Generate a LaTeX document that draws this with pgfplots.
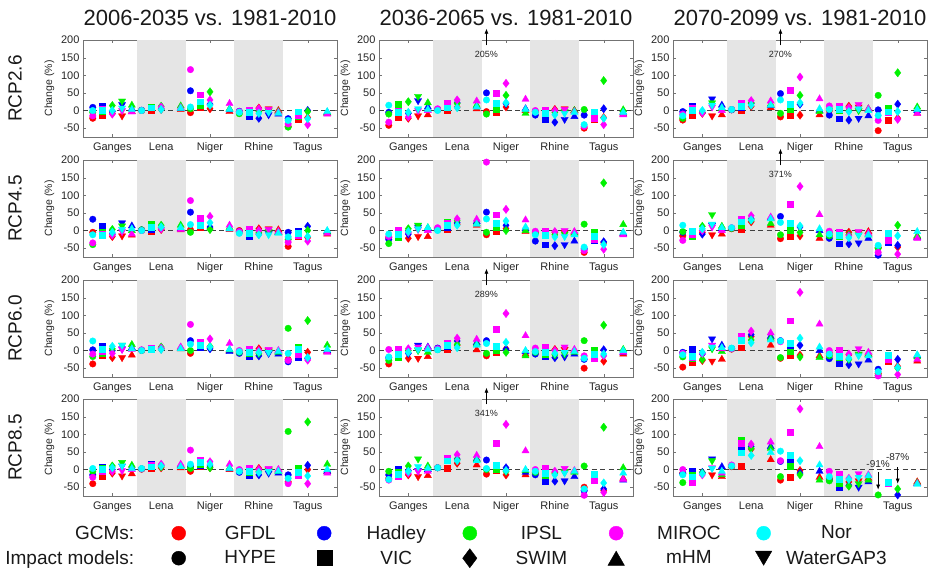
\documentclass[border=0pt]{standalone}
\usepackage{fontspec}
\setmainfont{Liberation Sans}
\usepackage{pgfplots}
\pgfplotsset{compat=1.18}
\usepackage{pgfplotstable}
\usetikzlibrary{arrows.meta}

\definecolor{gR}{rgb}{1,0,0}
\definecolor{gB}{rgb}{0,0,1}
\definecolor{gG}{rgb}{0,0.95,0}
\definecolor{gM}{rgb}{1,0,1}
\definecolor{gC}{rgb}{0,1,1}

\pgfdeclareplotmark{dtri}{%
  \pgfpathmoveto{\pgfqpoint{0pt}{-\pgfplotmarksize}}%
  \pgfpathlineto{\pgfqpointpolar{30}{\pgfplotmarksize}}%
  \pgfpathlineto{\pgfqpointpolar{150}{\pgfplotmarksize}}%
  \pgfpathclose
  \pgfusepathqfillstroke}

\pgfplotsset{
  panel/.style={scale only axis, width=254pt, height=97pt,
    xmin=0, xmax=26, ymin=-75, ymax=200,
    xtick={3,8,13,18,23}, xticklabels={Ganges,Lena,Niger,Rhine,Tagus},
    ytick={-50,0,50,100,150,200},
    tick align=inside, tick pos=both, major tick length=3pt,
    axis line style={black!55}, tick style={black!55},
    ticklabel style={font=\fontsize{11}{12}\selectfont, text=black!85},
    xticklabel style={yshift=-2.5pt},
    /pgf/number format/assume math mode=true,
    ylabel={Change (\%)}, ylabel style={font=\fontsize{10.5}{12}\selectfont, text=black!85},
    clip mode=individual, anchor=north west},
  mk/.style={only marks, scatter, scatter src=explicit symbolic, mark size=3.3pt,
    line width=0.3pt,
    scatter/classes={c={mark=*}, s={mark=square*,mark size=2.9pt},
      d={mark=diamond*,mark size=4.2pt}, v={mark=dtri,mark size=4.2pt},
      t={mark=triangle*,mark size=4.2pt}}},
}
\tikzset{arr/.style={-{Latex[length=5pt,width=4pt]}, line width=0.6pt, black},
  ann/.style={font=\fontsize{9}{10}\selectfont, text=black!85}}

\newcommand{\panel}[4]{%
\begin{axis}[panel, at={(#2,#3)}]
\addplot[fill=black!10, draw=none] coordinates {(5.5,-75) (10.5,-75) (10.5,200) (5.5,200)} -- cycle;
\addplot[fill=black!10, draw=none] coordinates {(15.5,-75) (20.5,-75) (20.5,200) (15.5,200)} -- cycle;
\addplot[dash pattern=on 5pt off 3.5pt, black!75, line width=0.6pt] coordinates {(0,0) (26,0)};
\addplot[mk, color=gR] table[x=x, y=R, meta=m] {#1};
\addplot[mk, color=gB] table[x=x, y=B, meta=m] {#1};
\addplot[mk, color=gG] table[x=x, y=G, meta=m] {#1};
\addplot[mk, color=gM] table[x=x, y=M, meta=m] {#1};
\addplot[mk, color=gC] table[x=x, y=C, meta=m] {#1};
#4
\end{axis}}

% ---------------- data: x slot, marker (impact model), GFDL Hadley IPSL MIROC Nor
\pgfplotstableread{
x m R B G M C
1 c -22 9 -5 -15 0
2 s -12 12 -2 5 0
3 d -8 -3 14 -10 0
4 v -15 17 27 0 7
5 t -3 5 15 -4 3
6 c 0 1 0 0 0
7 s 2 8 11 8 8
8 d 3 5 12 10 3
10 t 3 6 13 8 6
11 c -6 56 5 116 10
12 s 10 22 15 45 25
13 d 5 18 53 30 15
15 t -3 2 5 20 3
16 c -4 -2 -9 -3 -5
17 s 2 -15 -5 0 -5
18 d 7 -22 -3 5 -8
19 v 5 -12 0 3 -5
20 t 0 -10 -3 -5 -8
21 c -45 -23 -47 -38 -28
22 s -25 -5 -15 -12 -3
23 d -20 0 -3 -40 -23
25 t -8 -5 -7 -10 -3
}\tAa
\pgfplotstableread{
x m R B G M C
1 c -42 -5 -10 -33 15
2 s -20 8 18 -2 -5
3 d -22 -8 25 -18 -5
4 v -15 28 40 0 5
5 t -12 10 22 0 3
6 c 2 3 3 5 0
7 s 2 10 15 20 8
8 d 10 22 20 30 8
10 t 5 12 15 27 10
11 c -3 50 -10 nan 30
12 s -5 10 5 50 20
13 d 10 20 43 77 22
15 t 0 5 -8 32 3
16 c -3 -13 -2 0 -5
17 s -2 -25 -5 2 -8
18 d 3 -33 -5 0 -12
19 v 5 -25 -3 3 -8
20 t 0 -17 0 -3 -5
21 c -50 -13 3 -45 -40
22 s -25 -15 -10 -22 -3
23 d -20 5 85 -40 -22
25 t -10 -5 2 -12 -5
}\tAb
\pgfplotstableread{
x m R B G M C
1 c -27 -3 -22 -10 -15
2 s -12 12 5 8 0
3 d -8 -5 -5 -7 0
4 v -15 33 22 10 15
5 t -12 15 5 0 8
6 c 2 2 3 3 3
7 s 2 10 15 22 12
8 d 12 20 22 28 15
10 t 8 14 18 27 15
11 c -18 48 -8 nan 30
12 s -12 15 5 58 18
13 d -13 18 43 95 22
15 t -12 0 -3 33 5
16 c 0 -13 5 13 3
17 s 3 -23 0 13 5
18 d 12 -27 0 8 -3
19 v 10 -22 0 17 5
20 t 3 -15 5 5 0
21 c -57 2 43 -28 -14
22 s -27 -5 7 -5 -3
23 d -22 18 107 -25 -3
25 t -8 0 10 -8 3
}\tAc
\pgfplotstableread{
x m R B G M C
1 c -5 32 -40 -35 -12
2 s -5 13 -3 -10 -13
3 d -17 -10 3 -13 -5
4 v -15 22 13 -3 3
5 t -13 13 0 -10 5
6 c 0 2 2 0 0
7 s -2 5 18 8 10
8 d 3 8 15 5 10
10 t 2 5 15 3 8
11 c 2 52 -5 85 17
12 s 8 25 20 35 15
13 d 5 10 3 40 22
15 t 3 5 8 15 5
16 c 0 -3 -5 -3 -8
17 s 0 -17 -5 3 -8
18 d 5 -10 -5 0 -12
19 v 5 -8 -3 3 -12
20 t 2 -5 -5 -3 -8
21 c -45 -5 -25 -33 -18
22 s -17 -2 -10 -13 -8
23 d -20 12 0 -30 -17
25 t -10 -3 -5 -8 0
}\tBa
\pgfplotstableread{
x m R B G M C
1 c -20 -25 -37 -17 -10
2 s -15 -5 -18 0 -10
3 d -22 -10 5 -5 -3
4 v -17 10 15 3 5
5 t -17 5 8 0 8
6 c 2 5 3 8 0
7 s 3 10 25 20 15
8 d 18 22 28 33 15
10 t 15 25 20 32 18
11 c -12 52 -5 194 33
12 s -2 12 8 45 20
13 d 5 15 0 60 27
15 t -3 5 0 30 10
16 c -5 -30 -8 -2 -12
17 s -5 -40 -10 -2 -12
18 d -5 -43 -12 -3 -18
19 v -5 -40 -10 0 -17
20 t -5 -30 -8 -3 -12
21 c -62 -52 18 -57 -47
22 s -20 -28 -3 -25 -15
23 d -35 -32 135 -53 -40
25 t -10 -8 17 -12 -5
}\tBb
\pgfplotstableread{
x m R B G M C
1 c -15 -5 -3 -28 15
2 s -8 -5 -15 -10 -2
3 d -5 -10 12 0 5
4 v -12 15 45 10 18
5 t -10 5 12 0 8
6 c 5 7 6 8 8
7 s 5 20 15 33 25
8 d 25 33 30 42 30
10 t 15 35 20 38 33
11 c -23 40 -12 nan 23
12 s -15 12 0 75 20
13 d -15 10 -5 125 13
15 t -22 0 -12 45 5
16 c -8 -22 -15 -2 -10
17 s -10 -37 -15 -3 -13
18 d -5 -38 -12 -15 -20
19 v -5 -35 -12 -3 -13
20 t -3 -22 -12 -8 -13
21 c -48 -70 -50 -62 -42
22 s -30 -33 -13 -28 -8
23 d -47 -42 15 -67 -15
25 t -18 -20 -15 -22 -3
}\tBc
\pgfplotstableread{
x m R B G M C
1 c -38 2 -17 -10 27
2 s -13 13 -8 -3 5
3 d -20 0 5 -8 12
4 v -20 5 15 3 15
5 t -13 8 17 3 5
6 c 0 1 1 2 0
7 s 3 5 6 8 5
8 d 4 5 10 7 3
10 t 5 6 8 10 5
11 c -8 28 0 74 18
12 s 12 10 20 25 15
13 d 8 5 12 33 10
15 t 0 -3 2 20 3
16 c -2 -8 -5 0 -3
17 s -3 -15 -8 3 -5
18 d 5 -15 -8 0 -5
19 v 0 -8 -3 3 -5
20 t -2 -10 -5 0 -3
21 c -25 -32 63 -28 -8
22 s -8 -18 10 -10 3
23 d -5 -22 85 -27 -20
25 t -3 0 15 -5 3
}\tCa
\pgfplotstableread{
x m R B G M C
1 c -38 -20 -28 3 -18
2 s -15 -12 -20 3 -10
3 d -22 -8 0 5 -5
4 v -22 15 0 10 3
5 t -17 10 -5 8 3
6 c 3 7 3 5 2
7 s 3 12 18 22 15
8 d 15 27 17 35 8
10 t 2 22 18 32 15
11 c -15 28 -8 nan 20
12 s -5 8 2 60 12
13 d 5 3 -5 105 23
15 t -10 -3 -15 42 0
16 c -3 -10 -5 7 -3
17 s -3 -15 -10 10 -5
18 d 3 -20 -12 0 -8
19 v 3 -18 -10 10 -5
20 t 0 -10 -5 3 -3
21 c -50 -25 28 -15 -22
22 s -12 -15 2 -22 -10
23 d -30 2 72 -15 -10
25 t -10 -5 3 -5 0
}\tCb
\pgfplotstableread{
x m R B G M C
1 c -47 -5 -18 -8 -12
2 s -32 3 -22 -20 -15
3 d -28 -10 -25 -8 -5
4 v -30 33 5 15 10
5 t -25 15 -3 5 8
6 c 4 6 5 5 7
7 s 8 38 35 42 30
8 d 40 45 30 55 22
10 t 15 40 35 50 30
11 c -22 28 -20 25 27
12 s -13 10 -3 85 20
13 d -13 15 -18 165 35
15 t -15 0 -20 75 10
16 c -8 -23 -15 0 -10
17 s -15 -37 -20 2 -15
18 d -12 -40 -25 -10 -22
19 v -12 -38 -10 5 -15
20 t -10 -27 -12 -5 -15
21 c -65 -53 -70 -72 -60
22 s -30 -20 -15 -25 -12
23 d -45 -25 -50 -68 -48
25 t -30 -15 -18 -25 -12
}\tCc
\pgfplotstableread{
x m R B G M C
1 c -40 -15 -5 -22 3
2 s -20 8 5 -5 0
3 d -10 0 10 -5 5
4 v -18 10 20 -3 10
5 t -12 5 12 0 3
6 c 1 2 2 2 3
7 s 5 15 10 12 8
8 d 5 12 8 15 10
10 t 5 12 10 15 8
11 c -5 8 3 55 15
12 s 10 12 15 28 20
13 d 5 10 5 22 15
15 t 0 2 5 15 3
16 c -2 -8 -3 0 -5
17 s -3 -15 -8 3 -5
18 d 3 -15 -5 0 -8
19 v 0 -10 -3 3 -5
20 t -2 -10 -5 0 -5
21 c -35 -15 108 -40 -25
22 s -12 -10 5 -15 -8
23 d 0 12 135 -40 -18
25 t -5 -5 15 -10 0
}\tDa
\pgfplotstableread{
x m R B G M C
1 c -25 -15 -5 -30 -28
2 s -15 0 -8 -20 -12
3 d -15 -3 10 -10 -5
4 v -20 -3 30 -5 8
5 t -17 0 10 -5 3
6 c 5 5 5 5 5
7 s 5 28 30 33 25
8 d 18 30 28 42 25
10 t 13 30 28 40 25
11 c -13 27 0 nan 3
12 s -3 3 0 75 13
13 d -15 5 -5 128 -3
15 t -15 -8 -3 53 0
16 c -10 -15 -8 0 -5
17 s -8 -32 -15 5 -10
18 d -8 -33 -12 -5 -15
19 v -8 -32 -5 3 -10
20 t -5 -20 -8 -3 -5
21 c -50 -60 10 -73 -55
22 s -28 -25 -20 -30 -13
23 d -60 -55 120 -65 -38
25 t -25 -30 5 -28 -10
}\tDb
\pgfplotstableread{
x m R B G M C
1 c -10 -12 -37 0 -15
2 s -20 -5 -15 -35 -20
3 d -10 -8 -10 -15 -12
4 v -15 30 25 5 3
5 t -20 8 -15 -10 -5
6 c 8 10 10 13 10
7 s 10 65 83 75 48
8 d 58 65 60 72 40
10 t 28 65 60 78 48
11 c -30 23 -20 25 52
12 s -22 23 10 105 40
13 d -3 -10 -15 172 25
15 t -22 -5 -30 65 13
16 c -25 -30 -32 -5 -20
17 s -30 -50 -40 -12 -28
18 d -35 -45 -47 -25 -28
19 v -32 -50 -40 -12 -22
20 t -25 -35 -30 -15 -18
21 c nan nan -72 nan nan
22 s -38 -40 -38 -40 -35
23 d nan -72 -55 nan nan
25 t -35 -40 -38 -40 -42
}\tDc

\newcommand{\uparr}[1]{\draw[arr] (axis cs:11,185) -- (axis cs:11,232);
  \node[ann] at (axis cs:11,160) {#1};}

\begin{document}
\begin{tikzpicture}
\useasboundingbox (0,0) rectangle (931pt,569pt);
% column titles
\node[font=\fontsize{22}{24}\selectfont, text=black!90] at (210pt,551pt) {2006-2035 vs. 1981-2010};
\node[font=\fontsize{22}{24}\selectfont, text=black!90] at (506pt,551pt) {2036-2065 vs. 1981-2010};
\node[font=\fontsize{22}{24}\selectfont, text=black!90] at (800pt,551pt) {2070-2099 vs. 1981-2010};
% row labels
\node[rotate=90, font=\fontsize{19}{21}\selectfont, text=black!90] at (15pt,480.5pt) {RCP2.6};
\node[rotate=90, font=\fontsize{19}{21}\selectfont, text=black!90] at (15pt,360.5pt) {RCP4.5};
\node[rotate=90, font=\fontsize{19}{21}\selectfont, text=black!90] at (15pt,240.5pt) {RCP6.0};
\node[rotate=90, font=\fontsize{19}{21}\selectfont, text=black!90] at (15pt,121.5pt) {RCP8.5};

\panel{\tAa}{83pt}{529pt}{}
\panel{\tAb}{379pt}{529pt}{\uparr{205\%}}
\panel{\tAc}{673pt}{529pt}{\uparr{270\%}}
\panel{\tBa}{83pt}{409pt}{}
\panel{\tBb}{379pt}{409pt}{}
\panel{\tBc}{673pt}{409pt}{\uparr{371\%}}
\panel{\tCa}{83pt}{289pt}{}
\panel{\tCb}{379pt}{289pt}{\uparr{289\%}}
\panel{\tCc}{673pt}{289pt}{}
\panel{\tDa}{83pt}{170pt}{}
\panel{\tDb}{379pt}{170pt}{\uparr{341\%}}
\panel{\tDc}{673pt}{170pt}{%
  \draw[arr] (axis cs:21,-8) -- (axis cs:21,-57);
  \node[ann, font=\fontsize{10}{11}\selectfont] at (axis cs:21,15) {-91\%};
  \draw[arr] (axis cs:23,6) -- (axis cs:23,-40);
  \node[ann, font=\fontsize{10}{11}\selectfont] at (axis cs:23,35) {-87\%};}

% legend
\begin{axis}[hide axis, scale only axis, width=10pt, height=10pt,
  xmin=0, xmax=1, ymin=0, ymax=1, at={(0pt,0pt)}, anchor=south west,
  legend columns=6,
  legend image code/.code={\path[draw=none,fill=none] (0pt,-10pt) -- (0pt,10pt);
    \draw[#1] plot coordinates {(0pt,0pt)};},
  legend style={at={(-9.5pt,46pt)}, anchor=north west, draw=none, fill=none,
    inner sep=0pt, font=\fontsize{19}{22}\selectfont, text=black!90,
    nodes={inner sep=0pt, minimum height=18pt}, row sep=5pt,
    /tikz/every odd column/.append style={column sep=24.5pt},
    /tikz/every even column/.append style={column sep=26.5pt}},
  ]
\addlegendimage{empty legend}\addlegendentry{\makebox[130pt][r]{GCMs:\hspace{11pt}}}
\addlegendimage{only marks, mark=*, mark size=7pt, gR}\addlegendentry{\makebox[80pt]{GFDL}}
\addlegendimage{only marks, mark=*, mark size=7pt, gB}\addlegendentry{\makebox[80pt]{Hadley}}
\addlegendimage{only marks, mark=*, mark size=7pt, gG}\addlegendentry{\makebox[80pt]{IPSL}}
\addlegendimage{only marks, mark=*, mark size=7pt, gM}\addlegendentry{\makebox[80pt]{MIROC}}
\addlegendimage{only marks, mark=*, mark size=7pt, gC}\addlegendentry{\makebox[80pt]{Nor}}
\addlegendimage{empty legend}\addlegendentry{\makebox[130pt][r]{Impact models:\hspace{11pt}}}
\addlegendimage{only marks, mark=*, mark size=7pt, black}\addlegendentry{\makebox[80pt]{HYPE}}
\addlegendimage{only marks, mark=square*, mark size=7.5pt, black}\addlegendentry{\makebox[80pt]{VIC}}
\addlegendimage{only marks, mark=diamond*, mark size=9.5pt, black}\addlegendentry{\makebox[80pt]{SWIM}}
\addlegendimage{only marks, mark=triangle*, mark size=9.5pt, black, mark options={yshift=-2.4pt}}\addlegendentry{\makebox[80pt]{mHM}}
\addlegendimage{only marks, mark=dtri, mark size=9.5pt, black, mark options={yshift=2.4pt}}\addlegendentry{\makebox[80pt]{WaterGAP3}}
\end{axis}
\end{tikzpicture}
\end{document}
